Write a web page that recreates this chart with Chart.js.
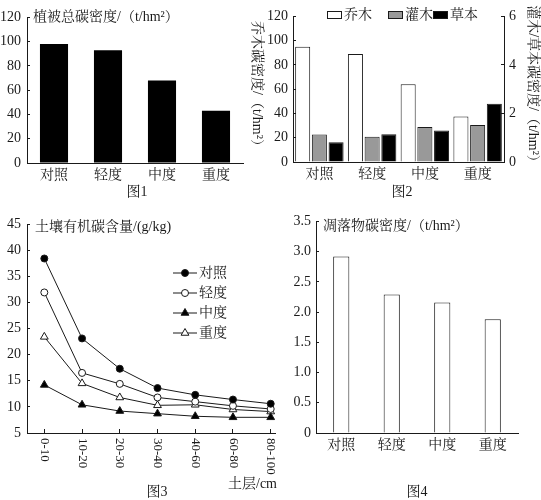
<!DOCTYPE html>
<html>
<head>
<meta charset="utf-8">
<script src="https://cdn.jsdelivr.net/npm/chart.js@4.4.0/dist/chart.umd.min.js"></script>
<style>
    body { margin: 0; background: #fff; width: 541px; height: 500px; position: relative; overflow: hidden; }
    canvas { position: absolute; }
</style>
</head>
<body>
<canvas id="chart1" width="250" height="200" style="left:0;top:0"></canvas>
<canvas id="chart2" width="301" height="200" style="left:240px;top:0"></canvas>
<canvas id="chart3" width="290" height="295" style="left:0;top:205px"></canvas>
<canvas id="chart4" width="251" height="295" style="left:290px;top:205px"></canvas>
<script>
var grazing = ['对照', '轻度', '中度', '重度'];
var totalCarbon = [98, 93, 68, 43];
var treeCarbon = [95, 89, 64, 37.5];
var shrubCarbon = [1.13, 1.04, 1.44, 1.52];
var herbCarbon = [0.81, 1.14, 1.30, 2.40];
var soilLayers = ['0-10', '10-20', '20-30', '30-40', '40-60', '60-80', '80-100'];
var soilCK = [38.4, 23.1, 17.3, 13.6, 12.3, 11.4, 10.6];
var soilLight = [31.9, 16.5, 14.4, 11.8, 11.0, 10.2, 9.6];
var soilMid = [14.2, 10.4, 9.2, 8.7, 8.2, 8.0, 8.0];
var soilHeavy = [23.4, 14.5, 11.8, 10.3, 10.4, 9.5, 9.1];
var litterCarbon = [2.92, 2.29, 2.16, 1.88];

var FONT = "'Liberation Serif', 'Noto Serif CJK SC', serif";
var INK = '#1a1a1a';

Chart.defaults.font.family = FONT;
Chart.defaults.font.size = 14;
Chart.defaults.color = INK;

// x axis with category labels, no grid
function catAxis(h) {
    return {
        grid: { display: false, tickLength: 0 },
        border: { color: INK },
        ticks: { padding: 4, color: INK, maxRotation: 0, autoSkip: false },
        afterFit: function(s) { s.height = h; }
    };
}

// value axis, tick marks pointing inside the plot
function valAxis(min, max, step, w, pad, pos, cb) {
    var ax = {
        position: pos || 'left',
        min: min,
        max: max,
        ticks: { stepSize: step, padding: pad, color: INK },
        grid: { drawOnChartArea: false, tickLength: -3, color: INK },
        border: { color: INK },
        afterFit: function(s) { s.width = w; }
    };
    if (cb) ax.ticks.callback = cb;
    return ax;
}

function notes(items) {
    return {
        id: 'notes',
        afterDraw: function(chart) {
            var ctx = chart.ctx;
            items.forEach(function(t) {
                ctx.save();
                ctx.font = (t.size || 14) + 'px ' + FONT;
                ctx.fillStyle = INK;
                ctx.textAlign = t.align || 'left';
                ctx.textBaseline = 'middle';
                ctx.translate(t.x, t.y);
                if (t.rot) ctx.rotate(t.rot);
                ctx.fillText(t.text, 0, 0);
                ctx.restore();
            });
        }
    };
}

var base = {
    responsive: false,
    animation: false,
    events: [],
    plugins: { legend: { display: false }, tooltip: { enabled: false } }
};

// 图1
new Chart(document.getElementById('chart1'), {
    type: 'bar',
    data: {
        labels: grazing,
        datasets: [{ data: totalCarbon, backgroundColor: '#000', barPercentage: 0.52, categoryPercentage: 1 }]
    },
    options: {
        ...base,
        layout: { padding: { left: 0, top: 14, right: 7, bottom: 0 } },
        scales: {
            x: catAxis(37),
            y: valAxis(0, 120, 20, 27, 9)
        }
    },
    plugins: [notes([
        { text: '植被总碳密度/（t/hm²）', x: 33, y: 17 },
        { text: '图1', x: 137, y: 192, align: 'center' }
    ])]
});

// 图2
var legend2 = {
    id: 'legend2',
    afterDraw: function(chart) {
        var ctx = chart.ctx;
        var xs = [87, 148, 193];
        chart.data.datasets.forEach(function(ds, i) {
            ctx.save();
            ctx.fillStyle = ds.backgroundColor;
            ctx.strokeStyle = INK;
            ctx.lineWidth = 1;
            ctx.fillRect(xs[i] + 0.5, 11.5, 14, 7);
            ctx.strokeRect(xs[i] + 0.5, 11.5, 14, 7);
            ctx.font = '14px ' + FONT;
            ctx.fillStyle = INK;
            ctx.textBaseline = 'middle';
            ctx.fillText(ds.label, xs[i] + 17, 15);
            ctx.restore();
        });
    }
};

var barStyle = { borderColor: INK, borderWidth: 1, barPercentage: 0.9, categoryPercentage: 0.95 };

new Chart(document.getElementById('chart2'), {
    type: 'bar',
    data: {
        labels: grazing,
        datasets: [
            { label: '乔木', data: treeCarbon, backgroundColor: '#fff', yAxisID: 'y', ...barStyle },
            { label: '灌木', data: shrubCarbon, backgroundColor: '#999', yAxisID: 'y2', ...barStyle },
            { label: '草本', data: herbCarbon, backgroundColor: '#000', yAxisID: 'y2', ...barStyle }
        ]
    },
    options: {
        ...base,
        layout: { padding: { left: 0, top: 10, right: 0, bottom: 0 } },
        scales: {
            x: catAxis(38),
            y: valAxis(0, 120, 20, 53, 8),
            y2: valAxis(0, 6, 2, 37, 8, 'right')
        }
    },
    plugins: [legend2, notes([
        { text: '乔木碳密度/（t/hm²）', x: 17, y: 87, align: 'center', rot: Math.PI / 2 },
        { text: '灌木/草本碳密度/（t/hm²）', x: 293, y: 87, align: 'center', rot: Math.PI / 2 },
        { text: '图2', x: 162, y: 192, align: 'center' }
    ])]
});

// 图3
var lineSets = [
    { label: '对照', vals: soilCK, style: 'circle', fill: '#000', r: 3.5 },
    { label: '轻度', vals: soilLight, style: 'circle', fill: '#fff', r: 3.5 },
    { label: '中度', vals: soilMid, style: 'triangle', fill: '#000', r: 4.5 },
    { label: '重度', vals: soilHeavy, style: 'triangle', fill: '#fff', r: 4.5 }
];

var legend3 = {
    id: 'legend3',
    afterDraw: function(chart) {
        var ctx = chart.ctx;
        chart.data.datasets.forEach(function(ds, i) {
            var y = 68 + i * 20;
            ctx.save();
            ctx.strokeStyle = INK;
            ctx.lineWidth = 1;
            ctx.beginPath();
            ctx.moveTo(173, y);
            ctx.lineTo(197, y);
            ctx.stroke();
            ctx.fillStyle = ds.pointBackgroundColor;
            Chart.helpers.drawPoint(ctx, { pointStyle: ds.pointStyle, radius: ds.pointRadius, rotation: 0, borderWidth: 1 }, 185, y);
            ctx.font = '14px ' + FONT;
            ctx.fillStyle = INK;
            ctx.textBaseline = 'middle';
            ctx.fillText(ds.label, 199, y);
            ctx.restore();
        });
    }
};

// layer labels read top to bottom
var layerLabels = {
    id: 'layerLabels',
    afterDraw: function(chart) {
        var ctx = chart.ctx;
        var sx = chart.scales.x;
        soilLayers.forEach(function(lb, i) {
            ctx.save();
            ctx.font = '13px ' + FONT;
            ctx.fillStyle = INK;
            ctx.textAlign = 'left';
            ctx.textBaseline = 'middle';
            ctx.translate(sx.getPixelForValue(i), 233);
            ctx.rotate(Math.PI / 2);
            ctx.fillText(lb, 0, 0);
            ctx.restore();
        });
    }
};

new Chart(document.getElementById('chart3'), {
    type: 'line',
    data: {
        datasets: lineSets.map(function(s) {
            return {
                label: s.label,
                data: s.vals.map(function(v, i) { return { x: i, y: v }; }),
                borderColor: INK,
                borderWidth: 1,
                pointStyle: s.style,
                pointRadius: s.r,
                pointBackgroundColor: s.fill,
                pointBorderColor: INK,
                pointBorderWidth: 1
            };
        })
    },
    options: {
        ...base,
        layout: { padding: { left: 0, top: 19, right: 15, bottom: 0 } },
        scales: {
            x: {
                type: 'linear',
                min: -0.459,
                max: 6.114,
                afterBuildTicks: function(s) {
                    s.ticks = soilLayers.map(function(_, i) { return { value: i }; });
                },
                ticks: { display: false },
                grid: { drawOnChartArea: false, tickLength: -4, color: INK },
                border: { color: INK },
                afterFit: function(s) { s.height = 67; }
            },
            y: valAxis(5, 45, 5, 27, 9)
        }
    },
    plugins: [legend3, layerLabels, notes([
        { text: '土壤有机碳含量/(g/kg)', x: 35, y: 22 },
        { text: '土层/cm', x: 277, y: 279, align: 'right' },
        { text: '图3', x: 157, y: 287, align: 'center' }
    ])]
});

// 图4
new Chart(document.getElementById('chart4'), {
    type: 'bar',
    data: {
        labels: grazing,
        datasets: [{ data: litterCarbon, backgroundColor: '#fff', borderColor: INK, borderWidth: 1, barPercentage: 0.32, categoryPercentage: 1 }]
    },
    options: {
        ...base,
        layout: { padding: { left: 0, top: 16, right: 23, bottom: 0 } },
        scales: {
            x: catAxis(67),
            y: valAxis(0, 3.5, 0.5, 26, 8, 'left', function(v) { return v === 0 ? '0' : v.toFixed(1); })
        }
    },
    plugins: [notes([
        { text: '凋落物碳密度/（t/hm²）', x: 33, y: 21 },
        { text: '图4', x: 127, y: 287, align: 'center' }
    ])]
});
</script>
</body>
</html>
